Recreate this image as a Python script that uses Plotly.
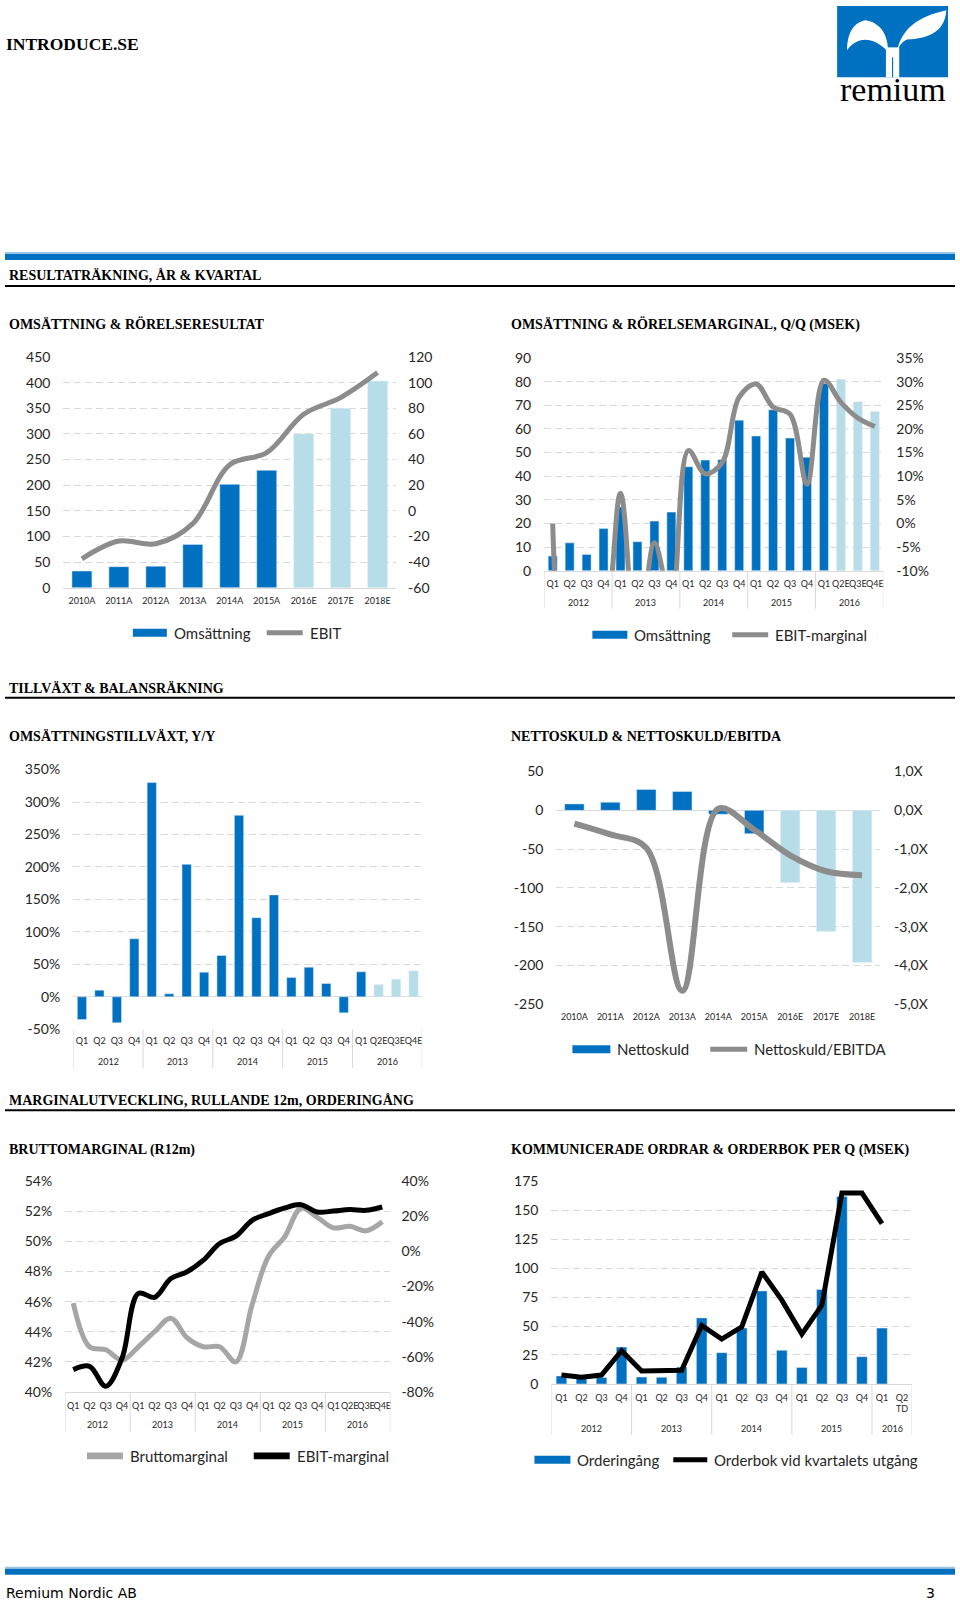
import plotly.graph_objects as go

W, H = 960, 1605
def fx(x): return x / W
def Y(y): return y + (y - 800) * 0.0097
def fy(y): return 1 - Y(y) / H
def fyr(y): return 1 - y / H

DARK = "#0070c0"
LIGHT = "#b7dde8"
GRAY = "#8c8c8c"
LGRAY = "#a6a6a6"
GRID = "#d9d9d9"
TXT = "#262626"
FONT = "Lato"
SERIF = "Liberation Serif"

# ---------------- data ----------------
years_annual = ["2010A", "2011A", "2012A", "2013A", "2014A", "2015A", "2016E", "2017E", "2018E"]
omsattning_ar = [32.5, 41, 42, 84.5, 201.6, 229, 300, 350, 403]
ebit_ar = [-37.4, -23.6, -25.7, -10, 36, 45.3, 75.3, 88.3, 107.8]

q_years = ["2012"] * 4 + ["2013"] * 4 + ["2014"] * 4 + ["2015"] * 4 + ["2016"] * 4
q_labels = ["Q1", "Q2", "Q3", "Q4"] * 4 + ["Q1", "Q2E", "Q3E", "Q4E"]
omsattning_q = [6.2, 11.8, 6.9, 17.9, 27, 12.3, 21, 24.8, 44, 46.8, 47, 63.7,
                57, 68.1, 56.1, 48, 79.3, 81, 71.5, 67.4]
ebit_marginal_q = [0, -33, -30, -24, 6.4, -29, -4.1, -17, 15.4, 10.5, 12.9, 26.7,
                   29.5, 24.6, 23.1, 8.3, 30.3, 25.6, 22.3, 20.5]

tillvaxt_yy = [-35, 10.3, -40, 89.4, 330, 4.6, 204, 38, 63.7, 279.5, 121.8, 157,
               29.8, 45.7, 20.6, -24.7, 38.5, 19, 27.2, 40]

nettoskuld = [8.3, 10.4, 27, 24.3, -5, -30, -93, -156, -196]
nettoskuld_ebitda = [-0.34, -0.62, -0.97, -4.65, 0.04, -0.5, -1.16, -1.57, -1.67]

bruttomarginal = [45.9, 43.0, 42.8, 42.1, 43.0, 44.0, 44.9, 43.6, 43.0, 43.0, 42.0, 45.8,
                  49.0, 50.3, 52.2, 51.6, 50.9, 51.0, 50.7, 51.3]
ebit_marginal_r12 = [-67.3, -65.4, -76.8, -60.7, -23.9, -26.1, -15.4, -11.6, -5.0, 4.5, 8.7, 17.7,
                     21.5, 24.7, 26.6, 22.4, 23.0, 23.8, 23.4, 25.3]

o_years = ["2012"] * 4 + ["2013"] * 4 + ["2014"] * 4 + ["2015"] * 4 + ["2016"] * 2
o_labels = ["Q1", "Q2", "Q3", "Q4"] * 4 + ["Q1", "Q2<br>TD"]
orderingang = [6.9, 5.5, 5.5, 31.8, 6, 5.7, 14.6, 57, 27, 48.2, 80.3, 29,
               14.3, 81.5, 161.8, 23.5, 48.2, None]
orderbok = [7.7, 5.7, 7.7, 28.7, 11.2, 12, 11.8, 50.5, 38.7, 49.3, 96.6, 72.3,
            43, 68, 164.7, 164.7, 138.3, None]

q_cats = [y + " " + q for y, q in zip(q_years, q_labels)]
o_cats = [y + " " + q for y, q in zip(o_years, o_labels)]


def est_colors(labels):
    return [LIGHT if str(l).endswith("E") else DARK for l in labels]


fig = go.Figure()

# Panel 1
fig.add_trace(go.Bar(x=years_annual, y=omsattning_ar, marker_color=est_colors(years_annual),
                     width=0.54, xaxis="x", yaxis="y"))
fig.add_trace(go.Scatter(x=years_annual, y=ebit_ar, mode="lines",
                         line=dict(color=GRAY, width=5, shape="spline"), xaxis="x", yaxis="y2"))
# Panel 2
fig.add_trace(go.Bar(x=q_cats, y=omsattning_q, marker_color=est_colors(q_labels),
                     width=0.53, xaxis="x2", yaxis="y3"))
fig.add_trace(go.Scatter(x=q_cats, y=ebit_marginal_q, mode="lines",
                         line=dict(color=GRAY, width=5, shape="spline"), xaxis="x2", yaxis="y4"))
# Panel 3
fig.add_trace(go.Bar(x=q_cats, y=tillvaxt_yy, marker_color=est_colors(q_labels),
                     width=0.53, xaxis="x3", yaxis="y5"))
# Panel 4
fig.add_trace(go.Bar(x=years_annual, y=nettoskuld, marker_color=est_colors(years_annual),
                     width=0.54, xaxis="x4", yaxis="y6"))
fig.add_trace(go.Scatter(x=years_annual, y=nettoskuld_ebitda, mode="lines",
                         line=dict(color=GRAY, width=6, shape="spline"), xaxis="x4", yaxis="y7"))
# Panel 5
fig.add_trace(go.Scatter(x=q_cats, y=bruttomarginal, mode="lines",
                         line=dict(color=LGRAY, width=5, shape="spline"), xaxis="x5", yaxis="y8"))
fig.add_trace(go.Scatter(x=q_cats, y=ebit_marginal_r12, mode="lines",
                         line=dict(color="#000000", width=5, shape="spline"), xaxis="x5", yaxis="y9"))
# Panel 6
fig.add_trace(go.Bar(x=o_cats, y=orderingang, marker_color=DARK,
                     width=0.53, xaxis="x6", yaxis="y10"))
fig.add_trace(go.Scatter(x=o_cats, y=orderbok, mode="lines",
                         line=dict(color="#000000", width=5), xaxis="x6", yaxis="y10"))


def xax(x0, x1, y, cats, labels=None, standoff=5):
    d = dict(domain=[fx(x0), fx(x1)], anchor=y, showline=True, linecolor=GRID, linewidth=1,
             ticks="", tickangle=0, tickfont=dict(family=FONT, size=9, color=TXT), fixedrange=True,
             showgrid=False, zeroline=False, ticklabelstandoff=standoff, type="category",
             range=[-0.5, len(cats) - 0.5], categoryorder="array", categoryarray=cats)
    if labels is not None:
        d.update(tickmode="array", tickvals=cats, ticktext=labels)
    return d


def fmt(v, suffix, fmtfun=None):
    if fmtfun:
        return fmtfun(v)
    return ("%g" % v) + suffix


def yax(top, bot, x, rng, dtick, suffix="", side="left", overlay=None, grid=True, standoff=12, fmtfun=None):
    n = int(round((rng[1] - rng[0]) / dtick))
    vals = [rng[0] + i * dtick for i in range(n + 1)]
    d = dict(domain=[fy(bot), fy(top)], anchor=x, range=rng, side=side,
             tickmode="array", tickvals=vals, ticktext=[fmt(v, suffix, fmtfun) for v in vals],
             showgrid=grid, gridcolor=GRID, griddash="7px,4px", gridwidth=1,
             zeroline=False, ticks="",
             tickfont=dict(family=FONT, size=14, color=TXT), fixedrange=True,
             ticklabelstandoff=standoff, showline=False)
    if overlay:
        d["overlaying"] = overlay
    return d


def ratio_fmt(v):
    return ("%.1f" % v).replace(".", ",") + "X"


layout = dict(
    width=W, height=H, margin=dict(l=0, r=0, t=0, b=0), autosize=False,
    paper_bgcolor="white", plot_bgcolor="rgba(0,0,0,0)", showlegend=False,
    barmode="overlay",
    xaxis=xax(63.5, 396.5, "y", years_annual, standoff=4),
    yaxis=yax(356, 587, "x", [0, 450], 50),
    yaxis2=yax(356, 587, "x", [-60, 120], 20, side="right", overlay="y", grid=False, standoff=11),
    xaxis2=xax(544.8, 884.2, "y3", q_cats, q_labels, standoff=4),
    yaxis3=yax(357, 570, "x2", [0, 90], 10),
    yaxis4=yax(357, 570, "x2", [-10, 35], 5, suffix="%", side="right", overlay="y3", grid=False, standoff=12),
    xaxis3=xax(73.3, 422.7, "y5", q_cats, q_labels),
    yaxis5=yax(769, 1029, "x3", [-50, 350], 50, suffix="%"),
    xaxis4=xax(557, 881, "y6", years_annual, standoff=6),
    yaxis6=yax(771, 1004, "x4", [-250, 50], 50),
    yaxis7=yax(771, 1004, "x4", [-5, 1], 1, side="right", overlay="y6", grid=False, standoff=13, fmtfun=ratio_fmt),
    xaxis5=xax(65.2, 390.8, "y8", q_cats, q_labels),
    yaxis8=yax(1181, 1392, "x5", [40, 54], 2, suffix="%"),
    yaxis9=yax(1181, 1392, "x5", [-80, 40], 20, suffix="%", side="right", overlay="y8", grid=False, standoff=10),
    xaxis6=xax(552, 913, "y10", o_cats, o_labels),
    yaxis10=yax(1181, 1384, "x6", [0, 175], 25),
)
layout["yaxis5"].update(zeroline=True, zerolinecolor=GRID, zerolinewidth=1)
layout["yaxis6"].update(zeroline=True, zerolinecolor=GRID, zerolinewidth=1)
layout["xaxis3"].update(showline=False)
layout["xaxis4"].update(showline=False)
fig.update_layout(**layout)

shapes = []
annotations = []


def text(x, y, s, size=14, family=SERIF, color="#000", xanchor="left", bold=False, raw=False):
    annotations.append(dict(x=fx(x), y=(fyr(y) if raw else fy(y)), xref="paper", yref="paper",
                            text=("<b>%s</b>" % s) if bold else s,
                            showarrow=False, xanchor=xanchor, yanchor="middle",
                            font=dict(family=family, size=size, color=color)))


def rect(x0, y0, x1, y1, color, raw=False):
    f = fyr if raw else fy
    shapes.append(dict(type="rect", xref="paper", yref="paper", x0=fx(x0), x1=fx(x1),
                       y0=f(y1), y1=f(y0), fillcolor=color, line=dict(width=0), layer="above"))


def hline(x0, x1, y, color="#000", width=2):
    shapes.append(dict(type="line", xref="paper", yref="paper", x0=fx(x0), x1=fx(x1),
                       y0=fy(y), y1=fy(y), line=dict(color=color, width=width)))


# year group labels and dividers under quarter axes
def year_groups(xref, years, axis_y, label_dy, div_dy):
    groups = []
    for i, yv in enumerate(years):
        if not groups or groups[-1][0] != yv:
            groups.append([yv, i, i])
        else:
            groups[-1][2] = i
    bounds = [-0.5] + [g[2] + 0.5 for g in groups]
    for b in bounds:
        shapes.append(dict(type="line", xref=xref, yref="paper", x0=b, x1=b,
                           y0=fy(axis_y), y1=fy(axis_y + div_dy), line=dict(color=GRID, width=1)))
    for yv, a, b in groups:
        annotations.append(dict(x=(a + b) / 2, y=fy(axis_y + label_dy), xref=xref, yref="paper",
                                text=yv, showarrow=False, xanchor="center", yanchor="middle",
                                font=dict(family=FONT, size=9, color=TXT)))


year_groups("x2", q_years, 570, 32, 38)
year_groups("x3", q_years, 1029, 32, 39)
year_groups("x5", q_years, 1392, 33, 40)
year_groups("x6", o_years, 1384, 45, 51)

# header
text(4, 43, "INTRODUCE.SE", size=17.5, bold=True)
# logo
LX0, LY0, LW, LH = 838, -3, 111, 72
rect(LX0, LY0, LX0 + LW, LY0 + LH, DARK, raw=True)


def lp(u, v):
    return "%.5f,%.5f" % (fx(LX0 + u * LW), fyr(LY0 + v * LH))


left_leaf = ("M" + lp(0.46, 0.64) + " C" + lp(0.46, 0.42) + " " + lp(0.40, 0.24) + " " + lp(0.26, 0.20)
             + " C" + lp(0.16, 0.22) + " " + lp(0.09, 0.36) + " " + lp(0.09, 0.62)
             + " C" + lp(0.16, 0.46) + " " + lp(0.30, 0.38) + " " + lp(0.46, 0.64) + " Z")
right_leaf = ("M" + lp(0.54, 0.64) + " C" + lp(0.58, 0.30) + " " + lp(0.75, 0.14) + " " + lp(0.985, 0.06)
              + " C" + lp(0.975, 0.32) + " " + lp(0.86, 0.46) + " " + lp(0.63, 0.47)
              + " C" + lp(0.58, 0.51) + " " + lp(0.56, 0.56) + " " + lp(0.54, 0.64) + " Z")
for pth in (left_leaf, right_leaf):
    shapes.append(dict(type="path", xref="paper", yref="paper", path=pth, fillcolor="white",
                       line=dict(width=0), layer="above"))
rect(LX0 + 0.44 * LW, LY0 + 0.58 * LH, LX0 + 0.56 * LW, LY0 + LH, "white", raw=True)
rect(LX0 + 0.495 * LW, LY0 + 0.72 * LH, LX0 + 0.505 * LW, LY0 + LH, DARK, raw=True)
text(LX0 + LW / 2, 81, "remium", size=34, xanchor="center", raw=True)

# blue bars & section lines
rect(5, 251, 956, 253, "#9dc3e6")
rect(5, 253, 956, 259, DARK)
rect(5, 1567, 956, 1569, "#9dc3e6")
rect(5, 1569, 956, 1575, DARK)
hline(5, 956, 285)
hline(5, 956, 697)
hline(5, 956, 1110)

# headings
text(7, 274, "RESULTATRÄKNING, ÅR &amp; KVARTAL", bold=True)
text(7, 323, "OMSÄTTNING &amp; RÖRELSERESULTAT", bold=True)
text(510, 323, "OMSÄTTNING &amp; RÖRELSEMARGINAL, Q/Q (MSEK)", bold=True)
text(7, 688, "TILLVÄXT &amp; BALANSRÄKNING", bold=True)
text(7, 736, "OMSÄTTNINGSTILLVÄXT, Y/Y", bold=True)
text(510, 736, "NETTOSKULD &amp; NETTOSKULD/EBITDA", bold=True)
text(7, 1100, "MARGINALUTVECKLING, RULLANDE 12m, ORDERINGÅNG", bold=True)
text(7, 1150, "BRUTTOMARGINAL (R12m)", bold=True)
text(510, 1150, "KOMMUNICERADE ORDRAR &amp; ORDERBOK PER Q (MSEK)", bold=True)

# footer
text(4, 1593, "Remium Nordic AB", size=14, family="DejaVu Sans")
text(938, 1593, "3", size=14, family="DejaVu Sans", xanchor="right")


# legends
def legend_item(x0, x1, y, color, label, h):
    rect(x0, y - h / 2, x1, y + h / 2, color)
    text(x1 + 5, y, label, size=15, family=FONT, color=TXT)


legend_item(133, 167, 632, DARK, "Omsättning", 8)
legend_item(267, 303, 632, GRAY, "EBIT", 5)
legend_item(593, 628, 634, DARK, "Omsättning", 8)
legend_item(733, 769, 634, GRAY, "EBIT-marginal", 5)
legend_item(573, 611, 1049, DARK, "Nettoskuld", 8)
legend_item(711, 748, 1049, GRAY, "Nettoskuld/EBITDA", 5)
legend_item(87, 123, 1456, LGRAY, "Bruttomarginal", 7)
legend_item(254, 290, 1456, "#000000", "EBIT-marginal", 7)
legend_item(535, 571, 1460, DARK, "Orderingång", 8)
legend_item(674, 708, 1460, "#000000", "Orderbok vid kvartalets utgång", 5)

fig.update_layout(shapes=shapes, annotations=annotations)
fig.write_html("out.html", config={"displayModeBar": False},
               post_script="document.body.style.margin='0px';document.body.style.padding='0px';")
